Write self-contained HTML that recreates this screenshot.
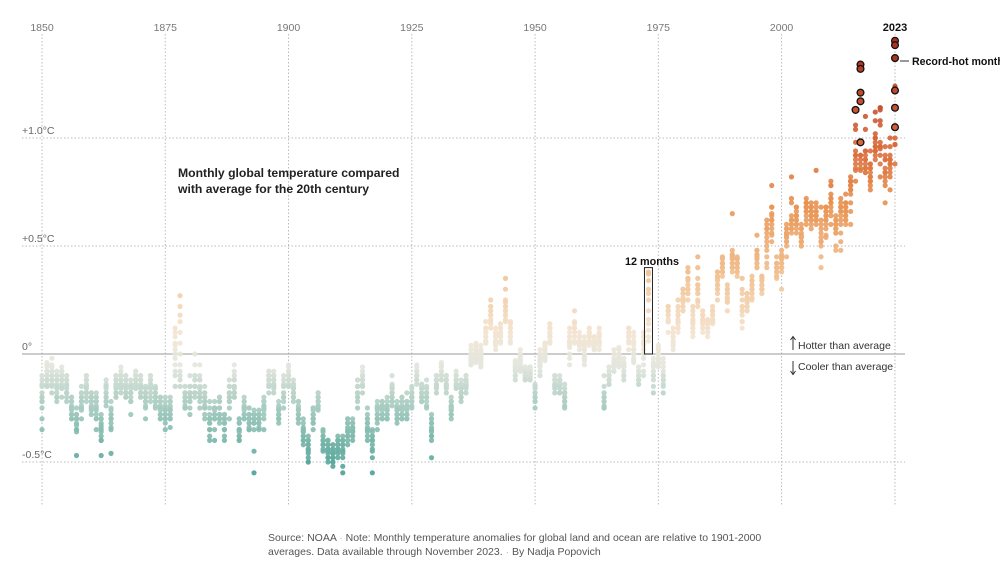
<!DOCTYPE html>
<html><head><meta charset="utf-8">
<style>
body{margin:0;background:#fff;width:1000px;height:561px;overflow:hidden;font-family:"Liberation Sans",sans-serif}
svg{display:block}
</style></head>
<body>
<svg id="chart" width="1000" height="561" viewBox="0 0 1000 561" xmlns="http://www.w3.org/2000/svg" font-family="Liberation Sans, sans-serif">
<g id="grid"></g>
<g id="dots"></g>
<g id="annot">
<text x="178" y="177" font-size="12.2" font-weight="bold" fill="#222">Monthly global temperature compared</text>
<text x="178" y="193" font-size="12.2" font-weight="bold" fill="#222">with average for the 20th century</text>
<text x="912" y="65" font-size="10.6" font-weight="bold" fill="#111">Record-hot month</text>
<line x1="900" y1="61" x2="909" y2="61" stroke="#333" stroke-width="1"/>
<text x="625" y="265" font-size="10.8" font-weight="bold" fill="#111">12 months</text>
<text x="798" y="349" font-size="10.5" fill="#333">Hotter than average</text>
<text x="798" y="370" font-size="10.5" fill="#333">Cooler than average</text>
<path d="M793 350 V337 M790.5 340 L793 336.5 L795.5 340" stroke="#333" fill="none" stroke-width="1"/>
<path d="M793 361 V374 M790.5 371 L793 374.5 L795.5 371" stroke="#333" fill="none" stroke-width="1"/>
<text x="268" y="541" font-size="10.5" fill="#555">Source: NOAA  <tspan fill="#bbb">·</tspan>  Note: Monthly temperature anomalies for global land and ocean are relative to 1901-2000</text>
<text x="268" y="555" font-size="10.5" fill="#555">averages. Data available through November 2023.  <tspan fill="#bbb">·</tspan>  By Nadja Popovich</text>
</g>
</svg>
<script>
const startYear = 1850;
const tickYears = [1850,1875,1900,1925,1950,1975,2000,2023];
const yTicks = [1.0,0.5,0,-0.5];
const yTickLabels = ["+1.0°C","+0.5°C","0°","-0.5°C"];
const monthly = [
"-30 -22 -35 -18 -20 -15 -12 -10 -14 -22 -25 -20",
"-15 -8 -12 -5 -10 -8 -12 -14 -6 -10 -4 -15",
"-18 -10 -6 -12 -8 -10 -14 -5 -2 -12 -15 -8",
"-12 -18 -20 -10 -14 -16 -12 -8 -20 -22 -15 -10",
"-20 -15 -10 -8 -12 -14 -10 -6 -12 -16 -10 -8",
"-10 -20 -18 -12 -14 -10 -16 -18 -12 -14 -22 -15",
"-20 -25 -30 -22 -28 -20 -24 -26 -30 -22 -28 -25",
"-28 -35 -30 -47 -32 -28 -30 -35 -25 -33 -30 -36",
"-25 -30 -18 -22 -20 -15 -24 -20 -26 -22 -18 -25",
"-12 -10 -15 -20 -12 -18 -15 -10 -22 -14 -16 -18",
"-25 -20 -18 -22 -26 -20 -24 -18 -28 -22 -20 -25",
"-30 -35 -20 -22 -28 -25 -20 -24 -26 -22 -30 -18",
"-40 -47 -38 -30 -32 -35 -33 -28 -36 -40 -34 -30",
"-15 -22 -18 -20 -12 -14 -24 -18 -16 -20 -22 -15",
"-46 -35 -30 -28 -32 -26 -25 -30 -28 -34 -30 -22",
"-15 -12 -18 -10 -14 -20 -16 -12 -18 -14 -10 -20",
"-8 -12 -10 -15 -14 -6 -10 -18 -12 -14 -16 -10",
"-15 -18 -12 -20 -10 -14 -16 -18 -12 -10 -20 -15",
"-28 -22 -15 -18 -16 -14 -20 -18 -12 -15 -22 -18",
"-8 -12 -10 -15 -14 -10 -12 -8 -16 -14 -10 -12",
"-15 -20 -12 -18 -10 -14 -16 -12 -20 -15 -18 -10",
"-22 -30 -18 -15 -20 -25 -18 -22 -16 -20 -24 -18",
"-15 -10 -20 -12 -18 -14 -16 -12 -22 -15 -10 -14",
"-20 -15 -25 -18 -22 -16 -20 -24 -18 -22 -20 -16",
"-22 -25 -28 -30 -20 -24 -26 -22 -28 -30 -25 -20",
"-25 -32 -28 -30 -35 -22 -26 -24 -30 -28 -20 -26",
"-22 -26 -30 -28 -24 -20 -25 -22 -26 -28 -34 -30",
"-15 -10 -8 -5 -2 0 2 5 8 10 12 4",
"27 22 18 15 10 5 0 -5 -8 -12 -10 -15",
"-15 -20 -18 -22 -25 -20 -18 -22 -24 -20 -18 -25",
"-22 -28 -18 -20 -15 -22 -18 -10 -15 -25 -20 -18",
"-10 -15 -5 0 -12 -18 -10 -15 -20 -12 -15 -18",
"-5 -10 -12 -18 -20 -22 -15 -12 -20 -16 -18 -25",
"-30 -25 -20 -15 -22 -18 -20 -25 -18 -22 -24 -28",
"-25 -22 -30 -35 -32 -30 -28 -35 -32 -40 -38 -30",
"-40 -35 -30 -25 -28 -30 -25 -22 -28 -26 -30 -25",
"-30 -32 -28 -25 -20 -22 -25 -30 -28 -22 -20 -30",
"-40 -35 -30 -32 -28 -35 -30 -38 -30 -35 -32 -28",
"-30 -25 -22 -20 -18 -15 -12 -15 -18 -22 -20 -18",
"-8 -5 -10 -12 -15 -18 -12 -16 -20 -15 -18 -20",
"-30 -35 -38 -40 -35 -32 -30 -35 -38 -40 -36 -32",
"-30 -28 -25 -22 -20 -25 -28 -24 -26 -30 -25 -22",
"-28 -25 -35 -32 -30 -28 -32 -35 -30 -25 -30 -34",
"-55 -45 -35 -30 -28 -32 -30 -28 -30 -32 -28 -26",
"-28 -30 -32 -35 -30 -26 -28 -32 -30 -28 -30 -34",
"-35 -30 -25 -22 -26 -24 -22 -20 -25 -22 -28 -24",
"-18 -15 -12 -10 -8 -12 -10 -14 -12 -10 -15 -8",
"-12 -10 -15 -8 -12 -14 -10 -16 -18 -12 -14 -15",
"-25 -30 -28 -32 -26 -24 -30 -28 -22 -30 -26 -28",
"-20 -25 -18 -15 -20 -22 -12 -14 -10 -15 -18 -20",
"-15 -10 -8 -5 -12 -10 -6 -12 -14 -10 -8 -15",
"-20 -15 -18 -12 -16 -14 -20 -18 -22 -16 -14 -18",
"-22 -25 -30 -28 -26 -32 -24 -28 -30 -26 -22 -30",
"-30 -35 -32 -38 -40 -36 -34 -38 -42 -36 -40 -35",
"-40 -45 -50 -42 -44 -48 -40 -46 -42 -44 -50 -38",
"-35 -30 -28 -25 -30 -32 -26 -28 -30 -25 -28 -32",
"-22 -25 -20 -18 -22 -24 -26 -20 -22 -24 -20 -18",
"-35 -40 -45 -42 -38 -40 -42 -36 -38 -44 -40 -42",
"-40 -42 -48 -45 -44 -46 -40 -42 -48 -50 -44 -40",
"-50 -45 -52 -48 -44 -46 -42 -48 -44 -46 -50 -42",
"-40 -42 -45 -38 -44 -40 -42 -46 -44 -40 -48 -42",
"-48 -52 -55 -45 -42 -40 -44 -46 -42 -38 -40 -45",
"-30 -35 -32 -38 -40 -36 -34 -42 -38 -36 -32 -30",
"-35 -38 -40 -36 -34 -32 -30 -36 -38 -34 -36 -32",
"-25 -20 -18 -15 -12 -18 -15 -20 -12 -15 -18 -22",
"-15 -10 -8 -12 -14 -10 -6 -12 -15 -18 -10 -12",
"-25 -30 -28 -32 -35 -38 -34 -36 -32 -30 -40 -35",
"-35 -40 -38 -42 -45 -40 -36 -38 -44 -40 -48 -55",
"-35 -30 -28 -25 -30 -32 -26 -24 -28 -30 -25 -22",
"-22 -25 -30 -28 -24 -26 -22 -28 -30 -25 -24 -28",
"-20 -25 -28 -30 -22 -26 -24 -28 -30 -26 -24 -30",
"-10 -15 -18 -20 -16 -14 -22 -18 -20 -24 -16 -22",
"-25 -30 -28 -22 -24 -26 -28 -30 -25 -32 -28 -26",
"-20 -25 -28 -30 -22 -24 -26 -28 -22 -30 -20 -25",
"-18 -22 -30 -28 -25 -24 -26 -28 -30 -22 -24 -28",
"-25 -20 -22 -18 -24 -20 -16 -22 -20 -18 -15 -20",
"-5 -8 -10 -12 -8 -6 -12 -10 -14 -10 -12 -8",
"-15 -20 -18 -22 -16 -14 -20 -18 -22 -16 -14 -20",
"-12 -15 -18 -20 -22 -16 -18 -20 -24 -18 -20 -25",
"-30 -40 -35 -32 -28 -36 -30 -38 -34 -32 -38 -48",
"-18 -15 -12 -10 -14 -12 -16 -10 -14 -12 -10 -15",
"-8 -10 -5 -12 -8 -6 -10 -4 -8 -10 -12 -6",
"-10 -12 -15 -18 -12 -10 -14 -16 -12 -10 -15 -14",
"-22 -25 -28 -20 -24 -26 -28 -22 -26 -30 -24 -25",
"-10 -12 -15 -8 -14 -12 -10 -16 -12 -14 -10 -12",
"-15 -20 -18 -12 -16 -14 -20 -18 -22 -16 -14 -18",
"-12 -15 -18 -10 -14 -12 -16 -14 -10 -12 -15 -13",
"-5 -2 0 -4 2 -3 0 -5 -2 4 -1 -3",
"2 5 0 -3 4 -2 1 -4 3 0 -2 -1",
"-4 -2 0 -6 2 -3 1 -5 -2 0 4 -1",
"5 10 8 12 6 15 10 8 12 6 10 5",
"20 15 18 12 22 25 16 20 14 18 22 12",
"10 5 8 2 12 6 10 4 8 6 9 5",
"8 12 6 10 14 5 8 12 10 6 9 10",
"25 30 35 20 22 18 24 15 20 18 16 22",
"15 10 12 8 6 10 14 8 5 10 12 8",
"-5 -8 -10 -3 -6 -12 -5 -8 -4 -10 -6 -7",
"-2 -5 0 -8 -3 -6 2 -4 -7 -1 -5 -3",
"-10 -8 -12 -6 -9 -7 -11 -10 -8 -12 -9 -6",
"-8 -12 -10 -6 -9 -11 -7 -10 -12 -8 -6 -9",
"-25 -22 -20 -18 -15 -20 -16 -14 -18 -20 -15 -22",
"-10 -8 -5 -2 0 -4 2 -6 -3 -5 -1 -4",
"-2 0 5 2 -3 1 4 -1 3 0 -2 5",
"5 10 8 12 6 10 14 5 8 12 6 9",
"-10 -15 -12 -18 -14 -10 -16 -12 -14 -10 -12 -15",
"-12 -18 -15 -10 -14 -12 -16 -18 -14 -12 -15 -13",
"-20 -25 -22 -18 -16 -20 -24 -18 -14 -22 -20 -18",
"-5 0 -2 5 8 3 6 10 4 8 12 6",
"15 20 12 10 14 8 12 6 10 12 8 5",
"5 8 10 6 4 8 2 6 5 8 4 6",
"-2 5 -5 0 3 2 4 -1 6 2 -3 8",
"5 10 8 6 12 10 4 8 6 10 8 9",
"4 6 8 2 5 7 3 6 8 4 5 2",
"5 8 2 10 6 4 8 12 9 6 5 9",
"-10 -15 -18 -20 -22 -25 -18 -20 -22 -24 -25 -20",
"-10 -8 -12 -14 -10 -6 -12 -8 -10 -14 -12 -6",
"-5 -2 0 -8 -4 -6 2 -5 -3 -8 -6 -4",
"-2 -5 0 3 -4 -1 2 -3 -6 0 -2 -3",
"-10 -8 -5 -12 -6 -4 -8 -10 -6 -4 -2 -5",
"2 5 8 10 6 12 8 10 6 9 8 12",
"10 8 5 2 6 0 -2 4 -4 0 2 -3",
"-8 -12 -10 -14 -8 -12 -6 -10 -14 -12 -8 -6",
"-10 -8 -5 -2 0 2 5 8 4 6 10 5",
"30 38 37 34 28 25 20 16 11 6 14 8",
"-15 -18 -12 -10 -8 -5 -10 -6 -8 -4 -2 -5",
"0 2 -3 -5 2 4 -2 0 -4 -6 -2 3",
"-10 -15 -12 -18 -14 -10 -8 -12 -6 -10 -4 -2",
"10 15 20 18 22 15 20 18 16 22 20 15",
"5 8 10 4 2 6 8 10 4 8 12 6",
"12 10 15 18 14 16 12 20 18 22 15 25",
"20 22 25 28 30 25 28 22 26 30 24 20",
"40 35 38 30 25 28 32 34 28 30 35 38",
"10 12 8 15 14 12 16 10 14 18 20 22",
"45 40 35 30 32 28 25 30 32 28 24 22",
"15 12 18 14 16 10 18 12 20 16 14 18",
"10 8 12 15 10 14 12 16 10 12 14 12",
"15 18 20 16 14 18 20 15 22 18 20 16",
"25 30 28 32 35 38 32 36 34 38 30 36",
"45 42 40 38 42 40 36 38 40 42 38 44",
"20 25 28 30 26 24 28 30 26 32 24 28",
"40 42 65 45 40 44 42 46 38 48 46 44",
"42 45 38 40 36 44 40 42 38 44 40 42",
"35 30 28 25 22 20 15 12 18 20 15 22",
"25 28 22 20 24 26 22 28 20 24 22 26",
"25 28 30 32 26 34 30 28 32 36 30 34",
"45 55 48 40 44 42 46 48 40 44 42 46",
"30 35 28 32 30 34 32 36 30 34 36 30",
"40 45 42 48 50 52 54 56 58 60 58 62",
"68 78 65 68 62 60 62 64 55 58 52 56",
"45 40 38 36 35 38 42 40 38 42 36 40",
"30 45 40 48 42 44 40 42 38 44 40 46",
"45 50 55 52 54 56 58 54 52 58 60 56",
"70 72 82 62 64 60 62 58 60 58 62 56",
"68 60 58 56 60 62 64 66 62 68 64 60",
"52 55 58 56 50 52 54 50 54 58 60 52",
"62 60 70 66 68 70 68 66 72 70 68 64",
"58 62 60 64 62 66 68 64 66 70 68 64",
"85 70 66 64 62 60 64 62 66 68 64 62",
"40 45 68 52 50 54 56 52 58 60 62 52",
"55 58 54 60 62 64 66 68 66 64 68 62",
"70 78 80 78 72 70 68 66 64 72 74 60",
"48 50 56 58 60 62 58 64 60 62 58 56",
"48 52 56 62 68 66 64 66 70 72 68 60",
"66 64 62 60 64 66 68 62 70 68 74 70",
"66 60 76 78 80 78 74 80 82 76 70 80",
"85 88 92 80 86 90 92 94 98 106 104 113",
"117 134 132 121 98 92 90 98 92 88 86 85",
"94 104 110 94 86 84 88 90 86 92 84 90",
"76 78 86 88 82 84 86 80 82 94 80 88",
"90 92 112 100 94 96 102 96 98 100 94 108",
"114 114 113 108 95 96 92 96 98 88 106 82",
"80 70 82 84 78 84 90 86 90 96 92 84",
"88 90 100 84 86 90 88 92 90 96 76 82",
"88 97 124 100 97 105 114 122 145 137 143"
];
const NS="http://www.w3.org/2000/svg";
const x0=42, pxYear=(895-42)/173, y0=354, pxDeg=216;
function xs(year){return x0+(year-startYear)*pxYear;}
function ys(v){return y0-v*pxDeg;}
function mk(tag,attrs,parent){const e=document.createElementNS(NS,tag);for(const k in attrs)e.setAttribute(k,attrs[k]);parent.appendChild(e);return e;}
const grid=document.getElementById('grid'), dots=document.getElementById('dots');
tickYears.forEach(function(yr){
  const x=xs(yr);
  const l=mk('line',{x1:x,x2:x,y1:34,y2:505,stroke:'#bbb','stroke-dasharray':'1.5,2','stroke-width':1},grid);
  
  
  const t=mk('text',{x:x,y:31,'text-anchor':'middle','font-size':yr===2023?11:10.5,fill:yr===2023?'#111':'#777','font-weight':yr===2023?'bold':'normal'},grid);
  t.textContent=yr;
  
  
});
yTicks.forEach(function(v,i){
  const y=ys(v);
  const l=mk('line',{x1:22,x2:905,y1:y,y2:y,stroke:v===0?'#999':'#bbb','stroke-dasharray':v===0?'none':'1.5,2','stroke-width':1},grid);
  
  
  const t=mk('text',{x:22,y:y-4,'font-size':10.5,fill:'#666'},grid);
  t.textContent=yTickLabels[i];
  
  
});
const stops=[[-0.6,[62,154,143]],[-0.3,[150,196,184]],[-0.05,[228,230,222]],[0.1,[244,228,210]],[0.35,[242,196,150]],[0.7,[232,146,80]],[1.0,[214,100,56]],[1.4,[170,50,30]]];
function color(v){
  if(v<=stops[0][0])return 'rgb('+stops[0][1]+')';
  for(let i=1;i<stops.length;i++){if(v<=stops[i][0]){const a=stops[i-1],b=stops[i],t=(v-a[0])/(b[0]-a[0]);return 'rgb('+a[1].map((c,j)=>Math.round(c+(b[1][j]-c)*t)).join(',')+')';}}
  return 'rgb('+stops[stops.length-1][1]+')';
}
const vals=monthly.map(s=>s.split(' ').map(Number).map(n=>n/100));
const recordMax=[];
for(let m=0;m<12;m++){let mx=-9;vals.forEach(r=>{if(r[m]!==undefined&&r[m]>mx)mx=r[m];});recordMax.push(mx);}
const recs=[];
vals.forEach(function(row,yi){
  row.forEach(function(v,m){
    const isRec=v===recordMax[m]&&v>0.9;
    const c=mk('circle',{cx:xs(startYear+yi).toFixed(2),cy:ys(v).toFixed(2),r:2.6,fill:color(v),'fill-opacity':0.9},dots);
    
    
    if(isRec)recs.push([yi,v]);
  });
});
recs.forEach(function(p){
  const c=mk('circle',{cx:xs(startYear+p[0]).toFixed(2),cy:ys(p[1]).toFixed(2),r:3.4,fill:color(p[1]),stroke:'#111','stroke-width':1.3},dots);
  
  
});
const bx=xs(1973);
const box=mk('rect',{x:bx-4,y:ys(0.4),width:8,height:ys(0)-ys(0.4),fill:'none',stroke:'#222','stroke-width':1},document.getElementById('annot'));


</script>
</body></html>
